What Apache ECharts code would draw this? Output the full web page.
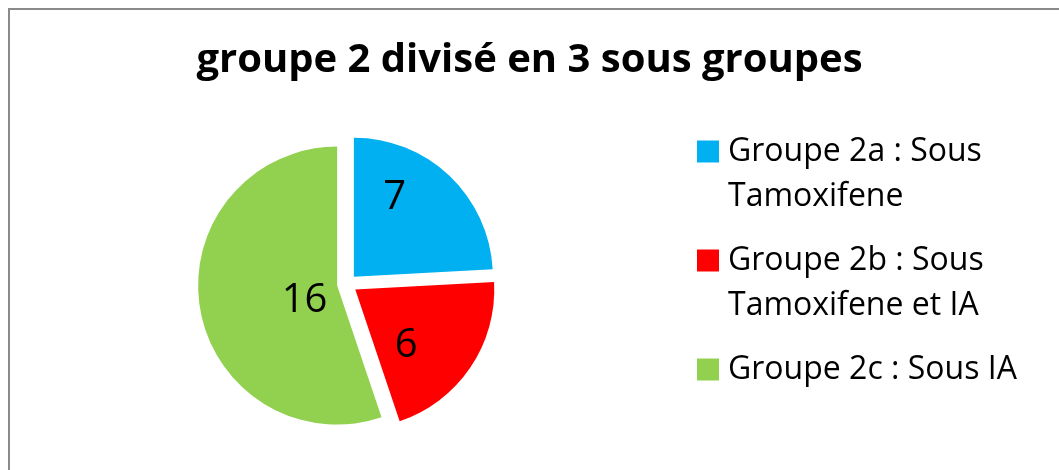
<!DOCTYPE html>
<html><head><meta charset="utf-8">
<script src="https://cdn.jsdelivr.net/npm/echarts@6/dist/echarts.min.js"></script>
<style>html,body{margin:0;padding:0;background:#fff}#c{width:1059px;height:470px}</style>
</head><body><div id="c"></div>
<script>
const titleText = 'groupe 2 divisé en 3 sous groupes';
const categories = ['Groupe 2a : Sous Tamoxifene', 'Groupe 2b : Sous Tamoxifene et IA', 'Groupe 2c : Sous IA'];
const legendLines = [['Groupe 2a : Sous', 'Tamoxifene'], ['Groupe 2b : Sous', 'Tamoxifene et IA'], ['Groupe 2c : Sous IA', '']];
const values = [7, 6, 16];
const colors = ['#00B0F0', '#FF0000', '#92D050'];

// label nudges (style only)
const labelShift = [[-9, -26], [-9, 15], [39, 3]];
const FONT = '"Open Sans", "Noto Sans", sans-serif';
const LH = 45;

const chart = echarts.init(document.getElementById('c'), null, {renderer: 'canvas'});
chart.setOption({
  animation: false,
  backgroundColor: '#ffffff',
  graphic: [{
    type: 'rect', z: -10, silent: true,
    shape: {x: 9, y: 9, width: 1100, height: 500},
    style: {fill: 'none', stroke: '#8a8a8a', lineWidth: 2}
  }],
  title: {
    text: titleText,
    left: 'center',
    top: 41,
    padding: 0,
    textStyle: {fontFamily: FONT, fontWeight: 'bold', fontSize: 40, color: '#000'}
  },
  legend: {
    orient: 'vertical',
    left: 697,
    top: 84,
    height: 700,
    padding: 0,
    itemWidth: 22,
    itemHeight: 22,
    itemGap: -26,
    icon: 'rect',
    selectedMode: false,
    data: categories,
    // leading blank line keeps the icon level with the first text line
    formatter: name => '\n' + legendLines[categories.indexOf(name)].join('\n'),
    textStyle: {fontFamily: FONT, fontSize: 32, color: '#000', lineHeight: LH, padding: [0, 0, 0, 4]}
  },
  series: [{
    type: 'pie',
    center: [347, 284],
    radius: 139,
    startAngle: 90,
    clockwise: true,
    selectedMode: 'multiple',
    selectedOffset: 10,
    silent: true,
    emphasis: {disabled: true},
    label: {
      show: true, position: 'inside', formatter: '{c}',
      fontFamily: FONT, fontSize: 40, color: '#000'
    },
    labelLine: {show: false},
    labelLayout: p => ({dx: labelShift[p.dataIndex][0], dy: labelShift[p.dataIndex][1]}),
    data: categories.map((n, i) => ({
      name: n, value: values[i], selected: true,
      itemStyle: {color: colors[i], borderWidth: 0},
      select: {itemStyle: {color: colors[i], borderWidth: 0}}
    }))
  }]
});
</script></body></html>
